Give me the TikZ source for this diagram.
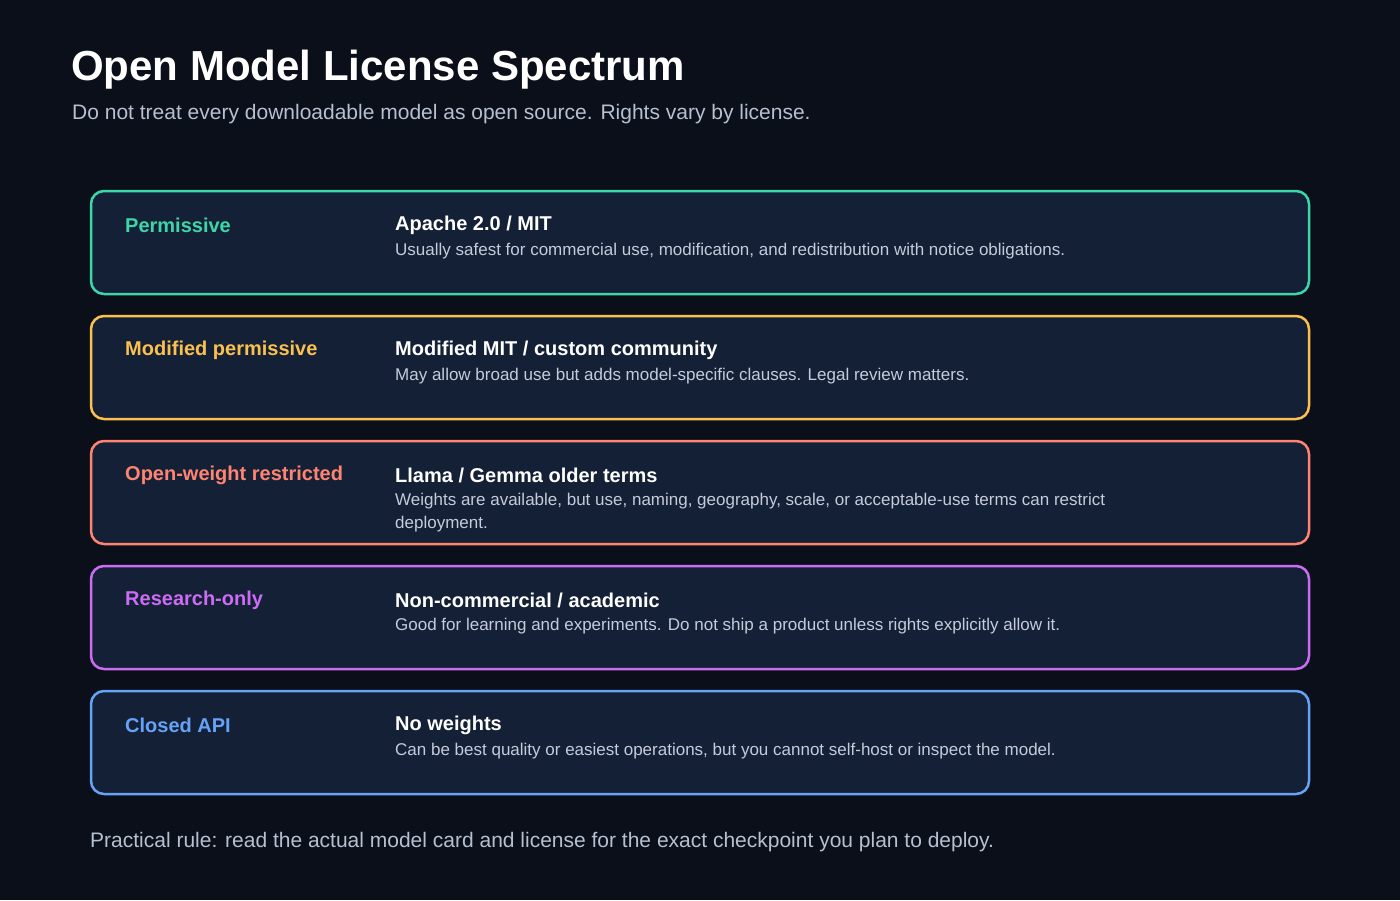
\documentclass[tikz,border=0pt]{standalone}
\usepackage{fontspec}
\setmainfont{Liberation Sans}
\definecolor{bg}{HTML}{0B0F19}
\definecolor{card}{HTML}{142036}
\definecolor{cg}{HTML}{3DD6A8}
\definecolor{cy}{HTML}{FBC04E}
\definecolor{cr}{HTML}{FF8472}
\definecolor{cp}{HTML}{CC6CF5}
\definecolor{cb}{HTML}{66A3F7}
\definecolor{desc}{HTML}{C3CCDB}
\definecolor{sub}{HTML}{B6C0D0}
\newcommand{\mycard}[6]{%
  \draw[cardbox=#2] (91,#1) rectangle (1309,#1+103);
  \node[lab=#2] (l#6) at (125,#1+34) {#3};
  \node[head] (h#6) at (395,#1+34) {#4};
  \node[dsc] (d#6) at (395,#1+52) {#5};}
\begin{document}
\begin{tikzpicture}[x=1pt,y=-1pt,
  cardbox/.style={draw=#1,line width=2.5pt,fill=card,rounded corners=13pt},
  lab/.style={anchor=west,font=\fontsize{20}{24}\selectfont\bfseries,text=#1,inner sep=0},
  head/.style={anchor=west,font=\fontsize{20}{24}\selectfont\bfseries,text=white,inner sep=0},
  dsc/.style={anchor=north west,font=\fontsize{17}{23}\selectfont,text=desc,inner sep=0,align=left}]
\fill[bg] (0,0) rectangle (1400,900);
\useasboundingbox (0,0) rectangle (1400,900);
\node[anchor=west,inner sep=0,text=white,font=\fontsize{42}{48}\selectfont\bfseries] (title) at (71,70) {Open Model License Spectrum};
\node[anchor=west,inner sep=0,text=sub,font=\fontsize{21}{25}\selectfont] (subt) at (72,114) {Do not treat every downloadable model as open source. Rights vary by license.};
\mycard{191}{cg}{Permissive}{Apache 2.0 / MIT}{Usually safest for commercial use, modification, and redistribution with notice obligations.}{0}
\mycard{316}{cy}{Modified permissive}{Modified MIT / custom community}{May allow broad use but adds model-specific clauses. Legal review matters.}{1}
\mycard{441}{cr}{Open-weight restricted}{Llama / Gemma older terms}{Weights are available, but use, naming, geography, scale, or acceptable-use terms can restrict\\deployment.}{2}
\mycard{566}{cp}{Research-only}{Non-commercial / academic}{Good for learning and experiments. Do not ship a product unless rights explicitly allow it.}{3}
\mycard{691}{cb}{Closed API}{No weights}{Can be best quality or easiest operations, but you cannot self-host or inspect the model.}{4}
\node[anchor=west,inner sep=0,text=sub,font=\fontsize{21}{25}\selectfont] (foot) at (90,842) {Practical rule: read the actual model card and license for the exact checkpoint you plan to deploy.};
\end{tikzpicture}
\end{document}
